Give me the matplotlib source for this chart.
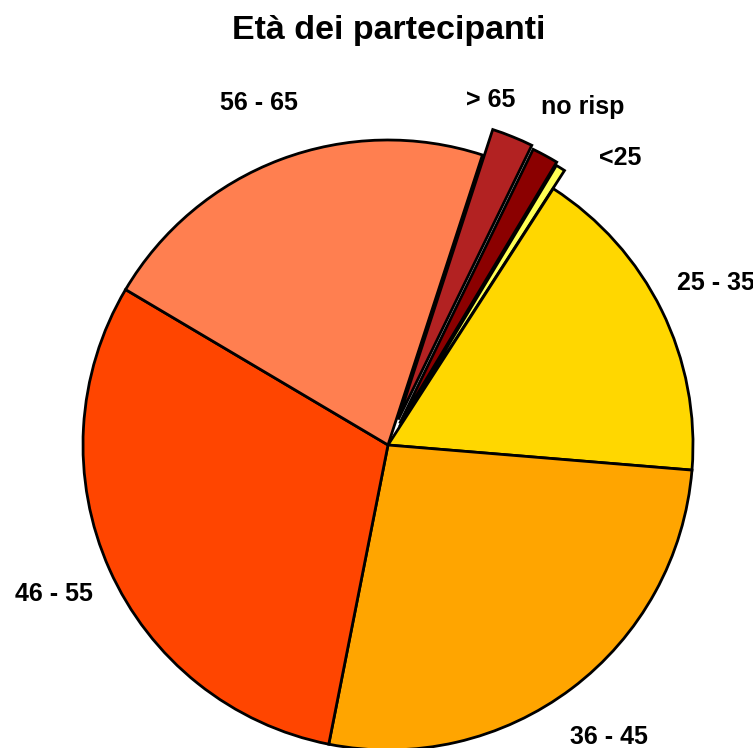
import numpy as np
import matplotlib
matplotlib.use("Agg")
import matplotlib.pyplot as plt

plt.rcParams["font.family"] = ["Liberation Sans", "DejaVu Sans"]

# data, clockwise from the top right
labels = ["<25", "25 - 35", "36 - 45", "46 - 55", "56 - 65", "> 65", "no risp"]
values = [0.5, 17.2, 26.8, 30.4, 21.5, 2.2, 1.4]
colors = ["#FFFF55", "#FFD700", "#FFA500", "#FF4500", "#FF7F50", "#B22222", "#8B0000"]
explode = [0.07, 0, 0, 0, 0, 0.09, 0.08]

W, H = 753, 748
cx, cy, R = 388, 445, 305  # pie centre and radius in pixels

fig = plt.figure(figsize=(W / 100, H / 100), dpi=100)
ax = fig.add_axes([0, 0, 1, 1])

wedges, texts = ax.pie(
    values, labels=labels, colors=colors, explode=explode,
    startangle=59, counterclock=False, labeldistance=1.2,
    wedgeprops=dict(edgecolor="black", linewidth=2),
    textprops=dict(fontsize=18, fontweight="bold"),
)

# small slices crowd together, spread their labels out a little
nudge = {"> 65": (5.5, 1.18), "no risp": (-1.5, 1.28), "<25": (-7, 1.21)}
for w, t in zip(wedges, texts):
    t.set_ha("center")
    t.set_va("center")
    lab = t.get_text()
    if lab in nudge:
        da, r = nudge[lab]
        ang = np.deg2rad((w.theta1 + w.theta2) / 2 + da)
        t.set_position((r * np.cos(ang), r * np.sin(ang)))

ax.set_aspect("equal")
ax.set_xlim(-cx / R, (W - cx) / R)
ax.set_ylim(-(H - cy) / R, cy / R)
ax.axis("off")

fig.text(389 / W, 1 - 30 / H, "Età dei partecipanti", ha="center", va="center",
         fontsize=24.5, fontweight="bold")

fig.savefig("out.png", dpi=100)
